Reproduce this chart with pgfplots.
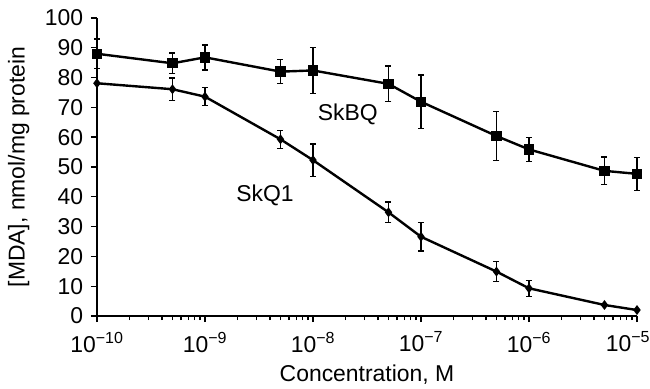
\documentclass[border=0pt]{standalone}
\usepackage{fontspec}
\setmainfont{Liberation Sans}
\usepackage{pgfplots}
\pgfplotsset{compat=1.18}
\begin{document}
\fontsize{23}{27}\selectfont
\begin{tikzpicture}
\path[use as bounding box] (-97bp,-73bp) rectangle (553bp,316bp);
\begin{axis}[
  xmode=log,
  scale only axis,
  width=540bp, height=298bp,
  xmin=1e-10, xmax=1e-5,
  ymin=0, ymax=100,
  axis x line*=bottom,
  axis y line*=left,
  axis line style={line width=2.2bp},
  every tick/.style={black, line width=1.4bp},
  major tick length=6bp,
  minor tick length=4bp,
  tick align=outside,
  ytick={0,10,...,100},
  xtick={1e-10,1e-9,1e-8,1e-7,1e-6,1e-5},
  xticklabels={10\textsuperscript{−10},10\textsuperscript{−9},10\textsuperscript{−8},10\textsuperscript{−7},10\textsuperscript{−6},10\textsuperscript{−5}\kern18bp},
  /pgf/number format/assume math mode=true,
  ticklabel style={font=\fontsize{23}{27}\selectfont},
  xticklabel style={yshift=-2bp},
  xlabel={Concentration, M},
  ylabel={[MDA], nmol/mg protein},
  label style={font=\fontsize{23}{27}\selectfont},
  xlabel style={yshift=3bp},
  clip=false,
]
\addplot[black, line width=2.4bp, mark=square*, mark size=4bp,
  error bars/.cd, y dir=both, y explicit,
  error bar style={line width=1.4bp},
  error mark options={rotate=90, mark size=3bp, line width=1.4bp}]
  table[x=x, y=y, y error=e] {
  x y e
  1e-10 88.0 5.0
  5e-10 84.8 3.5
  1e-9 86.8 4.2
  5e-9 82.0 4.0
  1e-8 82.4 7.7
  5e-8 77.9 6.0
  1e-7 71.9 9.0
  5e-7 60.4 8.3
  1e-6 55.9 4.0
  5e-6 48.7 4.6
  1e-5 47.7 5.5
  };
\addplot[black, line width=2.4bp, mark=diamond*, mark size=3bp,
  error bars/.cd, y dir=both, y explicit,
  error bar style={line width=1.4bp},
  error mark options={rotate=90, mark size=3bp, line width=1.4bp}]
  table[x=x, y=y, y error=e] {
  x y e
  1e-10 78.1 0
  5e-10 76.1 3.8
  1e-9 73.6 3.0
  5e-9 59.3 3.0
  1e-8 52.3 5.4
  5e-8 34.8 3.4
  1e-7 26.6 4.8
  5e-7 14.9 3.4
  1e-6 9.3 2.7
  5e-6 3.7 0
  1e-5 2.0 0
  };
\node[font=\fontsize{23}{27}\selectfont] at (axis cs:2.1e-8,67.8) {SkBQ};
\node[font=\fontsize{23}{27}\selectfont] at (axis cs:3.6e-9,40.4) {SkQ1};
\end{axis}
\end{tikzpicture}
\end{document}
